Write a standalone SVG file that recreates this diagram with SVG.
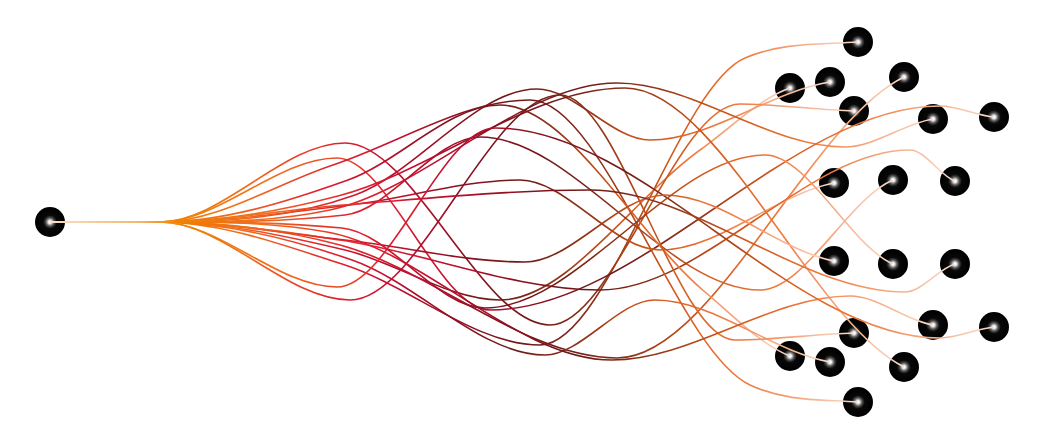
<svg xmlns="http://www.w3.org/2000/svg" width="1042" height="444" viewBox="0 0 1042 444">
<defs>
<linearGradient id="lg" x1="0" y1="0" x2="1" y2="0">
<stop offset="0" stop-color="#fbe0c4"/>
<stop offset="0.10" stop-color="#f3b870"/>
<stop offset="0.14" stop-color="#f08400"/>
<stop offset="0.25" stop-color="#f06a1e"/>
<stop offset="0.36" stop-color="#e0202e"/>
<stop offset="0.43" stop-color="#c01030"/>
<stop offset="0.52" stop-color="#8a1020"/>
<stop offset="0.60" stop-color="#6e1a18"/>
<stop offset="0.68" stop-color="#8e3418"/>
<stop offset="0.76" stop-color="#cc5418"/>
<stop offset="0.86" stop-color="#f07a3e"/>
<stop offset="1" stop-color="#f8dccb"/>
</linearGradient>
<radialGradient id="rg" cx="0.5" cy="0.5" r="0.5">
<stop offset="0" stop-color="#ffffff"/>
<stop offset="0.08" stop-color="#ffffff"/>
<stop offset="0.28" stop-color="#505050"/>
<stop offset="0.45" stop-color="#080808"/>
<stop offset="1" stop-color="#000000"/>
</radialGradient>
</defs>
<style>
.node circle{fill:url(#rg);}
.links path{fill:none;stroke:url(#lg);stroke-width:1.6;}
</style>
<g id="nodes">
<g id="n0" class="node"><circle cx="50" cy="222" r="15"/></g>
<g id="n1" class="node"><circle cx="858" cy="42" r="15"/></g>
<g id="n2" class="node"><circle cx="790" cy="88" r="15"/></g>
<g id="n3" class="node"><circle cx="830" cy="82" r="15"/></g>
<g id="n4" class="node"><circle cx="904" cy="77" r="15"/></g>
<g id="n5" class="node"><circle cx="854" cy="111" r="15"/></g>
<g id="n6" class="node"><circle cx="933" cy="119" r="15"/></g>
<g id="n7" class="node"><circle cx="994" cy="117" r="15"/></g>
<g id="n8" class="node"><circle cx="834" cy="183" r="15"/></g>
<g id="n9" class="node"><circle cx="893" cy="180" r="15"/></g>
<g id="n10" class="node"><circle cx="955" cy="181" r="15"/></g>
<g id="m1" class="node"><circle cx="858" cy="402" r="15"/></g>
<g id="m2" class="node"><circle cx="790" cy="356" r="15"/></g>
<g id="m3" class="node"><circle cx="830" cy="362" r="15"/></g>
<g id="m4" class="node"><circle cx="904" cy="367" r="15"/></g>
<g id="m5" class="node"><circle cx="854" cy="333" r="15"/></g>
<g id="m6" class="node"><circle cx="933" cy="325" r="15"/></g>
<g id="m7" class="node"><circle cx="994" cy="327" r="15"/></g>
<g id="m8" class="node"><circle cx="834" cy="261" r="15"/></g>
<g id="m9" class="node"><circle cx="893" cy="264" r="15"/></g>
<g id="m10" class="node"><circle cx="955" cy="264" r="15"/></g>
</g>
<g id="links" class="links">
<path d="M50,222 H160 C221.7,222 283.3,245.2 345,265 C410,285.9 475,345 540,345 C608.3,345 676.7,87 745,58 C782.7,42 820.3,44.7 858,42"/>
<path d="M50,222 H160 C221.7,222 283.3,235.4 345,250 C396.7,262.2 448.3,300 500,300 C566.7,300 633.3,198 700,150 C730,128.4 760,98.3 790,88"/>
<path d="M50,222 H160 C225,222 290,218.4 355,195 C415.7,173.2 476.3,89 537,89 C574.7,89 612.3,140 650,140 C710,140 770,91.7 830,82"/>
<path d="M50,222 H160 C220,222 280,228.9 340,245 C432.3,269.7 524.7,358 617,358 C712.7,358 808.3,123.8 904,77"/>
<path d="M50,222 H160 C221.7,222 283.3,143 345,143 C413.3,143 481.7,325 550,325 C613.3,325 676.7,104 740,104 C778,104 816,110 854,111"/>
<path d="M50,222 H160 C216.7,222 273.3,222 330,210 C425.7,189.7 521.3,83 617,83 C693,83 769,147 845,147 C874.3,147 903.7,123.7 933,119"/>
<path d="M50,222 H160 C219,222 278,158 337,158 C388,158 439,310 490,310 C640,310 790,106 940,106 C958,106 976,115.2 994,117"/>
<path d="M50,222 H160 C223.3,222 286.7,212.5 350,205 C406.7,198.3 463.3,180 520,180 C566.7,180 613.3,250 660,250 C718,250 776,194.2 834,183"/>
<path d="M50,222 H160 C221.7,222 283.3,222 345,215 C390,209.9 435,137 480,137 C573.3,137 666.7,290 760,290 C804.3,290 848.7,198.4 893,180"/>
<path d="M50,222 H160 C220,222 280,231.2 340,240 C426.7,252.7 513.3,290 600,290 C703.3,290 806.7,150 910,150 C925,150 940,175.8 955,181"/>
<path d="M50,222 H160 C217.7,222 275.3,184 333,165 C398.7,143.3 464.3,100 530,100 C603.3,100 676.7,350.4 750,385 C786,402 822,399.2 858,402"/>
<path d="M50,222 H160 C222.7,222 285.3,202.4 348,180 C398.7,161.9 449.3,105 500,105 C568.3,105 636.7,235.1 705,292 C733.3,315.6 761.7,345.3 790,356"/>
<path d="M50,222 H160 C224,222 288,237.9 352,260 C416.3,282.2 480.7,355 545,355 C581.7,355 618.3,300 655,300 C713.3,300 771.7,351.7 830,362"/>
<path d="M50,222 H160 C219.3,222 278.7,211.5 338,196 C433.7,171 529.3,88 625,88 C718,88 811,320.5 904,367"/>
<path d="M50,222 H160 C223.3,222 286.7,300 350,300 C420,300 490,95 560,95 C618.3,95 676.7,340 735,340 C774.7,340 814.3,334.2 854,333"/>
<path d="M50,222 H160 C215.7,222 271.3,222 327,232 C422,249.1 517,360 612,360 C691.3,360 770.7,296 850,296 C877.7,296 905.3,320.2 933,325"/>
<path d="M50,222 H160 C219,222 278,287 337,287 C389.7,287 442.3,128 495,128 C643.3,128 791.7,338 940,338 C958,338 976,328.8 994,327"/>
<path d="M50,222 H160 C221.7,222 283.3,233.2 345,240 C405,246.6 465,262 525,262 C571.7,262 618.3,195 665,195 C721.3,195 777.7,250 834,261"/>
<path d="M50,222 H160 C220.7,222 281.3,222 342,228 C389.7,232.7 437.3,308 485,308 C578.3,308 671.7,155 765,155 C807.7,155 850.3,245.8 893,264"/>
<path d="M50,222 H160 C221,222 282,209.7 343,205 C425.3,198.7 507.7,190 590,190 C695,190 800,292 905,292 C921.7,292 938.3,268.7 955,264"/>
</g>
</svg>
